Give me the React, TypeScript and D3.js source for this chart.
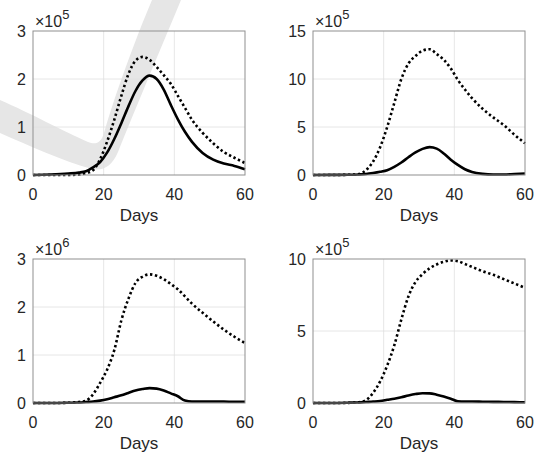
import React from "react";
import * as d3 from "d3";

// sample days shared by every series
const days = [0, 5, 10, 13, 15, 17, 19, 21, 23, 25, 27, 29, 31, 33, 35, 37, 39, 41, 43, 45, 48, 51, 54, 57, 60];

// panel 1 (x10^5)
const p1Solid = [0, 0.01, 0.03, 0.05, 0.08, 0.16, 0.27, 0.47, 0.75, 1.08, 1.43, 1.75, 1.97, 2.07, 2.0, 1.78, 1.46, 1.16, 0.9, 0.69, 0.46, 0.32, 0.24, 0.19, 0.12];
const p1Dotted = [0, 0, 0, 0.01, 0.04, 0.1, 0.33, 0.7, 1.15, 1.65, 2.1, 2.38, 2.46, 2.4, 2.25, 2.08, 1.9, 1.65, 1.4, 1.15, 0.88, 0.66, 0.48, 0.36, 0.25];
// panel 2 (x10^5)
const p2Solid = [0, 0.01, 0.03, 0.06, 0.1, 0.2, 0.33, 0.5, 0.85, 1.3, 1.85, 2.35, 2.72, 2.9, 2.75, 2.25, 1.6, 1.05, 0.6, 0.32, 0.12, 0.05, 0.05, 0.1, 0.15];
const p2Dotted = [0, 0, 0.02, 0.1, 0.5, 1.4, 2.9, 5.0, 7.5, 10.0, 11.6, 12.4, 12.95, 13.1, 12.6, 12.0, 11.1, 9.9, 8.9, 8.0, 6.9, 6.0, 5.2, 4.2, 3.3];
// panel 3 (x10^6)
const p3Solid = [0, 0, 0.005, 0.01, 0.02, 0.03, 0.05, 0.08, 0.12, 0.16, 0.21, 0.26, 0.29, 0.31, 0.3, 0.26, 0.2, 0.14, 0.05, 0.03, 0.03, 0.03, 0.03, 0.025, 0.025];
const p3Dotted = [0, 0, 0.005, 0.02, 0.05, 0.18, 0.42, 0.7, 1.1, 1.72, 2.17, 2.5, 2.63, 2.68, 2.65, 2.58, 2.48, 2.37, 2.22, 2.07, 1.88, 1.7, 1.53, 1.38, 1.25];
// panel 4 (x10^5)
const p4Solid = [0, 0, 0.02, 0.04, 0.07, 0.1, 0.14, 0.22, 0.3, 0.4, 0.52, 0.62, 0.68, 0.67, 0.58, 0.45, 0.3, 0.12, 0.1, 0.1, 0.09, 0.08, 0.07, 0.06, 0.05];
const p4Dotted = [0, 0, 0.01, 0.05, 0.2, 0.7, 1.5, 2.6, 4.0, 5.8, 7.4, 8.4, 8.95, 9.35, 9.62, 9.8, 9.9, 9.85, 9.65, 9.45, 9.15, 8.9, 8.6, 8.3, 8.0];

const xTicks = [0, 20, 40, 60];
const yTicks1 = [0, 1, 2, 3];
const yTicks2 = [0, 5, 10, 15];
const yTicks3 = [0, 1, 2, 3];
const yTicks4 = [0, 5, 10];
const exponents = ["5", "5", "6", "5"];

const W = 539;
const H = 457;
const font = "'Liberation Sans', Arial, Helvetica, sans-serif";
const textColor = "#262626";

const panels = [
  { left: 33, top: 31, solid: p1Solid, dotted: p1Dotted, yTicks: yTicks1, exp: exponents[0] },
  { left: 313, top: 31, solid: p2Solid, dotted: p2Dotted, yTicks: yTicks2, exp: exponents[1] },
  { left: 33, top: 259, solid: p3Solid, dotted: p3Dotted, yTicks: yTicks3, exp: exponents[2] },
  { left: 313, top: 259, solid: p4Solid, dotted: p4Dotted, yTicks: yTicks4, exp: exponents[3] },
];
const pw = 212;
const ph = 144;

function Panel({ p }: { p: any }) {
  const x = d3.scaleLinear().domain([0, 60]).range([p.left, p.left + pw]);
  const yMax = p.yTicks[p.yTicks.length - 1];
  const y = d3.scaleLinear().domain([0, yMax]).range([p.top + ph, p.top]);
  const line = d3
    .line<number>()
    .x((_, i) => x(days[i]))
    .y((d) => y(d))
    .curve(d3.curveMonotoneX);
  const bottom = p.top + ph;
  return (
    <g>
      {xTicks.slice(1, -1).map((t) => (
        <line key={"gx" + t} x1={x(t)} x2={x(t)} y1={p.top} y2={bottom} stroke="#e0e0e0" strokeWidth={0.8} />
      ))}
      {p.yTicks.slice(1, -1).map((t: number) => (
        <line key={"gy" + t} x1={p.left} x2={p.left + pw} y1={y(t)} y2={y(t)} stroke="#e0e0e0" strokeWidth={0.8} />
      ))}
      <path d={line(p.dotted) || ""} fill="none" stroke="#000" strokeWidth={2.6} strokeDasharray="2.4 2.6" />
      <path d={line(p.solid) || ""} fill="none" stroke="#000" strokeWidth={2.6} />
      <rect x={p.left} y={p.top} width={pw} height={ph} fill="none" stroke="#8f8f8f" strokeWidth={1} />
      {xTicks.map((t) => (
        <text key={"tx" + t} x={x(t)} y={bottom + 25} textAnchor="middle" fontSize={16} fill={textColor}>
          {t}
        </text>
      ))}
      {p.yTicks.map((t: number) => (
        <text key={"ty" + t} x={p.left - 7} y={y(t) + 6} textAnchor="end" fontSize={16} fill={textColor}>
          {t}
        </text>
      ))}
      <text x={p.left + 2} y={p.top - 4} fontSize={16} fill={textColor}>
        ×10
        <tspan dy={-8} fontSize={13}>
          {p.exp}
        </tspan>
      </text>
      <text x={p.left + pw / 2} y={bottom + 46} textAnchor="middle" fontSize={17} fill={textColor}>
        Days
      </text>
    </g>
  );
}

export default function App() {
  return (
    <div style={{ position: "absolute", left: 0, top: 0 }}>
      <svg width={W} height={H} style={{ display: "block", background: "#fff", fontFamily: font }}>
        <path
          d="M0,100 C30,113 65,132 88,142 C96,145 101,143 104,133 C115,95 135,40 152,0 L181,0 C160,50 135,110 118,152 C112,166 104,171 92,169 C60,160 30,146 0,133 Z"
          fill="#e6e6e6"
        />
        {panels.map((p, i) => (
          <Panel key={i} p={p} />
        ))}
      </svg>
    </div>
  );
}
